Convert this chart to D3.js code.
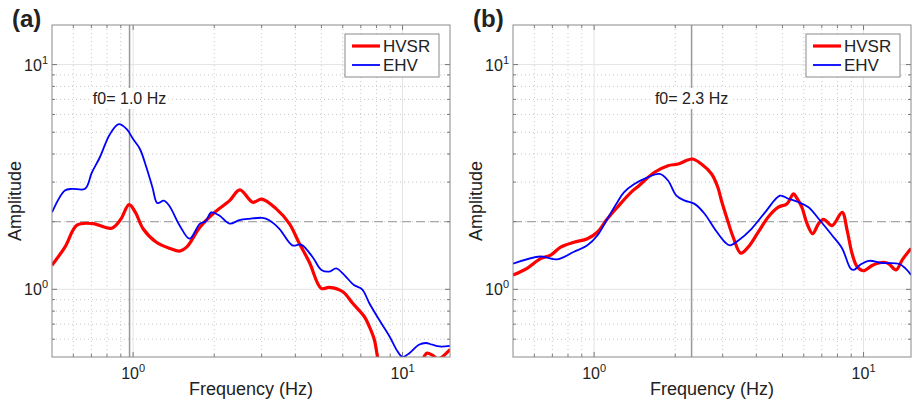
<!DOCTYPE html>
<html>
<head>
<meta charset="utf-8">
<script src="https://cdn.jsdelivr.net/npm/d3@7"></script>
<style>
  body { margin: 0; background: #fff; }
  svg text { font-family: "Liberation Sans", Arial, Helvetica, sans-serif; fill: #222; }
</style>
</head>
<body>
<div id="chart"></div>
<script>
// 数据：频率 (Hz) 与幅值
const hvsrA = [
  [0.5, 1.28], [0.56, 1.55], [0.619, 1.93], [0.709, 1.96], [0.832, 1.87], [0.9, 2.05],
  [0.966, 2.38], [1.02, 2.2], [1.089, 1.86], [1.22, 1.62], [1.37, 1.52], [1.49, 1.48],
  [1.58, 1.54], [1.77, 1.89], [1.98, 2.17], [2.28, 2.48], [2.49, 2.77], [2.78, 2.44],
  [3.0, 2.52], [3.4, 2.28], [3.8, 1.96], [4.14, 1.6], [4.51, 1.32], [4.99, 1.01],
  [5.35, 1.02], [6.0, 0.976], [6.53, 0.867], [7.21, 0.757], [7.53, 0.683], [7.86, 0.597],
  [8.08, 0.5], [8.4, 0.42], [11.0, 0.42], [11.8, 0.48], [12.3, 0.52], [12.9, 0.51],
  [13.5, 0.49], [14.0, 0.5], [15, 0.54]
];
const ehvA = [
  [0.5, 2.2], [0.558, 2.75], [0.593, 2.8], [0.663, 2.8], [0.703, 3.31], [0.752, 3.86],
  [0.82, 4.9], [0.885, 5.43], [0.947, 5.16], [1.0, 4.66], [1.06, 4.21], [1.12, 3.49],
  [1.18, 2.84], [1.23, 2.42], [1.3, 2.48], [1.36, 2.36], [1.49, 1.92], [1.62, 1.68],
  [1.77, 1.96], [1.86, 2.01], [1.95, 2.2], [2.09, 2.13], [2.28, 1.96], [2.48, 2.03],
  [2.7, 2.06], [3.02, 2.08], [3.2, 2.03], [3.49, 1.86], [3.9, 1.57], [4.2, 1.58],
  [4.64, 1.39], [5.0, 1.22], [5.35, 1.2], [5.67, 1.24], [6.07, 1.16], [6.6, 1.045],
  [7.08, 1.0], [7.53, 0.867], [8.2, 0.73], [8.95, 0.617], [9.58, 0.53], [10.0, 0.5],
  [10.6, 0.52], [11.5, 0.567], [12.2, 0.577], [12.9, 0.567], [13.7, 0.557], [15, 0.56]
];
const hvsrB = [
  [0.5, 1.157], [0.564, 1.24], [0.633, 1.37], [0.69, 1.42], [0.751, 1.54], [0.842, 1.62],
  [0.944, 1.68], [1.03, 1.8], [1.12, 2.06], [1.22, 2.32], [1.37, 2.7], [1.47, 2.9],
  [1.67, 3.31], [1.88, 3.55], [2.05, 3.61], [2.31, 3.8], [2.5, 3.61], [2.73, 3.26],
  [2.88, 2.84], [2.97, 2.48], [3.1, 2.1], [3.28, 1.71], [3.5, 1.45], [3.73, 1.54],
  [4.07, 1.8], [4.43, 2.1], [4.83, 2.32], [5.19, 2.4], [5.5, 2.66], [5.65, 2.55],
  [5.9, 2.32], [6.17, 1.96], [6.47, 1.77], [6.81, 1.96], [7.11, 2.05], [7.64, 1.92],
  [8.33, 2.2], [8.69, 1.83], [9.07, 1.44], [9.47, 1.26], [10.0, 1.21], [10.8, 1.28],
  [11.9, 1.32], [12.4, 1.3], [13.2, 1.22], [13.9, 1.35], [15, 1.52]
];
const ehvB = [
  [0.5, 1.3], [0.633, 1.4], [0.73, 1.36], [0.842, 1.47], [0.944, 1.57], [1.03, 1.74],
  [1.12, 2.06], [1.22, 2.44], [1.29, 2.7], [1.41, 2.94], [1.58, 3.15], [1.75, 3.26],
  [1.88, 3.05], [2.02, 2.61], [2.17, 2.48], [2.36, 2.4], [2.57, 2.17], [2.8, 1.86],
  [3.06, 1.62], [3.19, 1.57], [3.43, 1.65], [3.84, 1.86], [4.31, 2.2], [4.9, 2.61],
  [5.26, 2.53], [5.74, 2.44], [6.25, 2.32], [6.81, 2.06], [7.64, 1.74], [8.33, 1.52],
  [8.94, 1.24], [9.2, 1.22], [9.75, 1.29], [10.5, 1.34], [11.7, 1.31], [13.5, 1.3],
  [14.3, 1.24], [15, 1.16]
];

const panelLabels = ['(a)', '(b)'];
const f0Values = [0.97, 2.3];
const f0Labels = ['f0= 1.0 Hz', 'f0= 2.3 Hz'];
const seriesNames = ['HVSR', 'EHV'];
const xDomain = [0.5, 15];
const yDomain = [0.5, 15];
const majorTicks = [1, 10];
const minorTicks = [0.5, 0.6, 0.7, 0.8, 0.9, 2, 3, 4, 5, 6, 7, 8, 9];
const refAmplitude = 2;

const width = 914, height = 403;
const svg = d3.select('#chart').append('svg')
  .attr('width', width).attr('height', height);

const panels = [
  { left: 52, right: 450, data: [hvsrA, ehvA] },
  { left: 513, right: 911, data: [hvsrB, ehvB] }
];
const plotTop = 25, plotBottom = 357;

panels.forEach((p, i) => drawPanel(p, i));

function drawPanel(p, i) {
  const x = d3.scaleLog().domain(xDomain).range([p.left, p.right]);
  const y = d3.scaleLog().domain(yDomain).range([plotBottom, plotTop]);
  const g = svg.append('g');

  // 网格线
  const minorX = minorTicks.filter(v => v > xDomain[0] && v < xDomain[1]);
  const minorY = minorTicks.filter(v => v > yDomain[0] && v < yDomain[1]);
  g.selectAll('.gx-minor').data(minorX).enter().append('line')
    .attr('x1', d => x(d)).attr('x2', d => x(d)).attr('y1', plotTop).attr('y2', plotBottom)
    .attr('stroke', '#c8c8c8').attr('stroke-dasharray', '1,3');
  g.selectAll('.gy-minor').data(minorY).enter().append('line')
    .attr('y1', d => y(d)).attr('y2', d => y(d)).attr('x1', p.left).attr('x2', p.right)
    .attr('stroke', '#c8c8c8').attr('stroke-dasharray', '1,3');
  g.selectAll('.gx').data(majorTicks).enter().append('line')
    .attr('x1', d => x(d)).attr('x2', d => x(d)).attr('y1', plotTop).attr('y2', plotBottom)
    .attr('stroke', '#e4e4e4');
  g.selectAll('.gy').data(majorTicks).enter().append('line')
    .attr('y1', d => y(d)).attr('y2', d => y(d)).attr('x1', p.left).attr('x2', p.right)
    .attr('stroke', '#e4e4e4');

  // 参考线
  g.append('line')
    .attr('x1', p.left).attr('x2', p.right)
    .attr('y1', y(refAmplitude)).attr('y2', y(refAmplitude))
    .attr('stroke', '#a8a8a8').attr('stroke-width', 1.2).attr('stroke-dasharray', '9,5');
  g.append('line')
    .attr('x1', x(f0Values[i])).attr('x2', x(f0Values[i]))
    .attr('y1', plotTop).attr('y2', plotBottom)
    .attr('stroke', '#999').attr('stroke-width', 1.5);

  // 坐标轴刻度（向内）
  const tickVals = majorTicks.concat(minorX);
  [plotBottom, plotTop].forEach((yy, k) => {
    g.selectAll(null).data(tickVals).enter().append('line')
      .attr('x1', d => x(d)).attr('x2', d => x(d))
      .attr('y1', yy).attr('y2', d => yy + (k === 0 ? -1 : 1) * (majorTicks.includes(d) ? 5 : 3))
      .attr('stroke', '#777');
  });
  const yTickVals = majorTicks.concat(minorY);
  [p.left, p.right].forEach((xx, k) => {
    g.selectAll(null).data(yTickVals).enter().append('line')
      .attr('y1', d => y(d)).attr('y2', d => y(d))
      .attr('x1', xx).attr('x2', d => xx + (k === 0 ? 1 : -1) * (majorTicks.includes(d) ? 5 : 3))
      .attr('stroke', '#777');
  });

  // f0 标注（白底，遮住竖线）
  const f0Text = g.append('text')
    .attr('x', x(f0Values[i])).attr('y', 104)
    .attr('text-anchor', 'middle').attr('font-size', 16)
    .text(f0Labels[i]);
  const bb = f0Text.node().getBBox();
  g.insert('rect', () => f0Text.node())
    .attr('x', bb.x - 2).attr('y', bb.y - 2)
    .attr('width', bb.width + 4).attr('height', bb.height + 4)
    .attr('fill', '#fff');

  // 曲线
  const clipId = 'clip' + i;
  svg.append('defs').append('clipPath').attr('id', clipId)
    .append('rect').attr('x', p.left).attr('y', plotTop)
    .attr('width', p.right - p.left).attr('height', plotBottom - plotTop);
  const line = d3.line()
    .x(d => x(d[0])).y(d => y(d[1]))
    .curve(d3.curveCatmullRom.alpha(0.5));
  const colors = ['#ff0000', '#0000ff'];
  const widths = [3.2, 1.8];
  const plot = g.append('g').attr('clip-path', `url(#${clipId})`);
  p.data.forEach((series, k) => {
    plot.append('path').datum(series)
      .attr('d', line)
      .attr('fill', 'none')
      .attr('stroke', colors[k])
      .attr('stroke-width', widths[k])
      .attr('stroke-linejoin', 'round');
  });

  // 边框
  g.append('rect').attr('x', p.left).attr('y', plotTop)
    .attr('width', p.right - p.left).attr('height', plotBottom - plotTop)
    .attr('fill', 'none').attr('stroke', '#8a8a8a').attr('stroke-width', 1);

  // 刻度标签 10^n
  majorTicks.forEach(v => {
    const e = Math.round(Math.log10(v));
    const tx = g.append('text').attr('x', x(v)).attr('y', plotBottom + 22)
      .attr('text-anchor', 'middle').attr('font-size', 16);
    tx.append('tspan').text('10');
    tx.append('tspan').attr('dy', -7).attr('font-size', 11).text(e);
    const ty = g.append('text').attr('x', p.left - 4).attr('y', y(v) + 6)
      .attr('text-anchor', 'end').attr('font-size', 16);
    ty.append('tspan').text('10');
    ty.append('tspan').attr('dy', -7).attr('font-size', 11).text(e);
  });

  // 轴标题
  g.append('text')
    .attr('x', (p.left + p.right) / 2).attr('y', 395)
    .attr('text-anchor', 'middle').attr('font-size', 18)
    .text('Frequency (Hz)');
  g.append('text')
    .attr('transform', `translate(${p.left - 31},${(plotTop + plotBottom) / 2 + 10}) rotate(-90)`)
    .attr('text-anchor', 'middle').attr('font-size', 18)
    .text('Amplitude');

  // 面板标签
  g.append('text')
    .attr('x', p.left - 40).attr('y', 27)
    .attr('font-size', 24).attr('font-weight', 'bold')
    .text(panelLabels[i]);

  // 图例
  const lx = p.right - 105, ly = 34;
  const leg = g.append('g');
  leg.append('rect').attr('x', lx).attr('y', ly).attr('width', 94).attr('height', 43)
    .attr('fill', '#fff').attr('stroke', '#8a8a8a');
  seriesNames.forEach((name, k) => {
    const yy = ly + 12 + k * 19;
    leg.append('line').attr('x1', lx + 7).attr('x2', lx + 35)
      .attr('y1', yy).attr('y2', yy)
      .attr('stroke', colors[k]).attr('stroke-width', widths[k]);
    leg.append('text').attr('x', lx + 38).attr('y', yy + 6)
      .attr('font-size', 17).text(name);
  });
}
</script>
</body>
</html>
